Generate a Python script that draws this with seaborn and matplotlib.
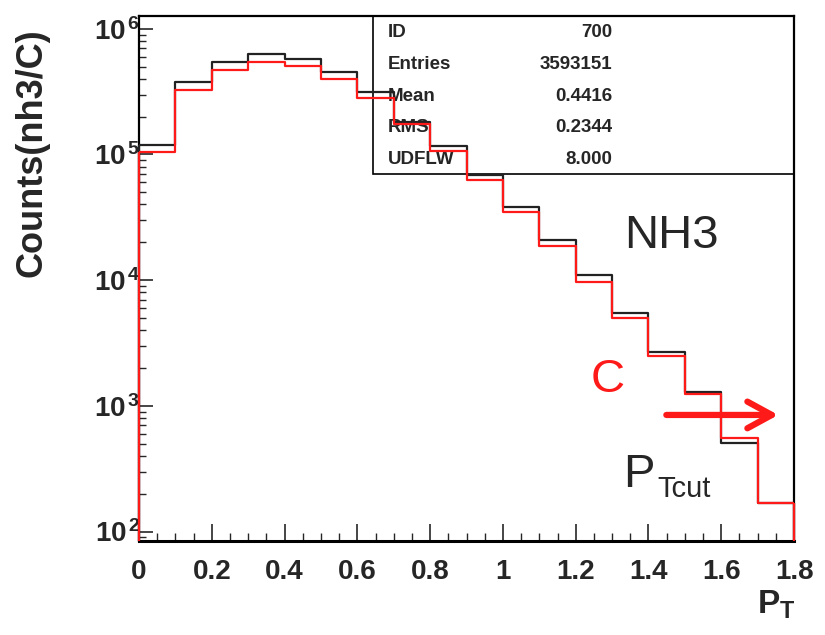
import numpy as np
import seaborn as sns
import matplotlib.pyplot as plt
from matplotlib import ticker

# pT bins (GeV/c) and counts per bin
pt_bins = [0.0, 0.1, 0.2, 0.3, 0.4, 0.5, 0.6, 0.7, 0.8, 0.9,
           1.0, 1.1, 1.2, 1.3, 1.4, 1.5, 1.6, 1.7, 1.8]
nh3_counts = [1.19e5, 3.80e5, 5.47e5, 6.27e5, 5.77e5, 4.57e5, 3.13e5, 1.82e5, 1.17e5,
              6.90e4, 3.84e4, 2.07e4, 1.09e4, 5.46e3, 2.66e3, 1.28e3, 505, 168]
c_counts = [1.05e5, 3.27e5, 4.70e5, 5.42e5, 5.09e5, 3.96e5, 2.81e5, 1.76e5, 1.07e5,
            6.27e4, 3.47e4, 1.88e4, 9.65e3, 4.99e3, 2.50e3, 1.24e3, 553, 168]

stat_names = ["ID", "Entries", "Mean", "RMS", "UDFLW"]
stat_values = ["700", "3593151", "0.4416", "0.2344", "8.000"]

sns.set_theme(style="white")
plt.rcParams["font.family"] = ["Liberation Sans", "DejaVu Sans"]
plt.rcParams["mathtext.fontset"] = "custom"
plt.rcParams["mathtext.rm"] = "Liberation Sans"
plt.rcParams["mathtext.bf"] = "Liberation Sans:bold"
plt.rcParams["mathtext.it"] = "Liberation Sans:italic"

black = "#222222"
red = "#ff1a1a"
y_min, y_max = 84, 1.27e6

centers = (np.array(pt_bins[:-1]) + np.array(pt_bins[1:])) / 2

fig = plt.figure(figsize=(8.25, 6.35), dpi=100)
ax = fig.add_axes([0.1685, 0.148, 0.794, 0.8272])
ax.set_yscale("log")

for counts, col, z in [(nh3_counts, black, 3), (c_counts, red, 4)]:
    sns.histplot(x=centers, weights=counts, bins=pt_bins, element="step", fill=False,
                 color=col, linewidth=1.6, ax=ax, zorder=z)
    # histogram edges down to the axis, as ROOT draws them
    ax.vlines([pt_bins[0], pt_bins[-1]], y_min, [counts[0], counts[-1]],
              colors=col, linewidth=1.6, zorder=z, clip_on=False)

ax.set_xlim(pt_bins[0], pt_bins[-1])
ax.set_ylim(y_min, y_max)

# ticks, ROOT style
ax.xaxis.set_major_locator(ticker.MultipleLocator(0.2))
ax.xaxis.set_minor_locator(ticker.MultipleLocator(0.05))
ax.xaxis.set_major_formatter(ticker.FuncFormatter(lambda v, p: f"{v:g}"))
ax.yaxis.set_major_locator(ticker.LogLocator(base=10))
ax.yaxis.set_minor_locator(ticker.LogLocator(base=10, subs=np.arange(2, 10)))
ax.yaxis.set_minor_formatter(ticker.NullFormatter())
ax.yaxis.set_major_formatter(ticker.FuncFormatter(
    lambda v, p: r"$\mathbf{10}^{\,\mathbf{%d}}$" % round(np.log10(v))))
ax.tick_params(axis="x", which="major", direction="in", length=12, width=1.2,
               pad=13, labelsize=20, bottom=True, top=False)
ax.tick_params(axis="x", which="minor", direction="in", length=6, width=1.0,
               bottom=True, top=False)
ax.tick_params(axis="y", which="major", direction="in", length=10, width=1.2,
               pad=-1, labelsize=20, left=True, right=False)
ax.tick_params(axis="y", which="minor", direction="in", length=5, width=1.0,
               left=True, right=False)
for lab in ax.get_xticklabels():
    lab.set_fontweight("bold")

for side, lw in [("left", 1.6), ("bottom", 2.2), ("top", 1.6), ("right", 1.6)]:
    ax.spines[side].set_visible(True)
    ax.spines[side].set_color("black")
    ax.spines[side].set_linewidth(lw)

ax.set_ylabel("Counts(nh3/C)", fontsize=26, fontweight="bold", fontstyle="normal")
ax.yaxis.set_label_coords(-0.136, 0.739)
ax.set_xlabel(r"$\mathbf{P_T}$", fontsize=24, loc="right")
ax.xaxis.set_label_coords(1.002, -0.091)

# stats box
ax.add_patch(plt.Rectangle((0.357, 0.699), 0.643, 0.301, transform=ax.transAxes,
                           fill=False, edgecolor="black", linewidth=1.2, zorder=2))
row_y = [0.968, 0.907, 0.846, 0.787, 0.726]
for name, val, y in zip(stat_names, stat_values, row_y):
    ax.text(0.380, y, name, transform=ax.transAxes, fontsize=13.5, fontweight="bold",
            ha="left", va="center", zorder=1)
    ax.text(0.722, y, val, transform=ax.transAxes, fontsize=13.5, fontweight="bold",
            ha="right", va="center", zorder=1)

ax.text(0.740, 0.558, "NH3", transform=ax.transAxes, fontsize=34, ha="left", va="baseline")
ax.text(0.690, 0.284, "C", transform=ax.transAxes, fontsize=34, color=red,
        ha="left", va="baseline")
ax.text(0.739, 0.103, "P", transform=ax.transAxes, fontsize=34, ha="left", va="baseline")
ax.text(0.791, 0.084, "Tcut", transform=ax.transAxes, fontsize=21, ha="left", va="baseline")
ax.annotate("", xy=(0.976, 0.240), xytext=(0.805, 0.240),
            xycoords="axes fraction", textcoords="axes fraction",
            arrowprops=dict(arrowstyle="->,head_length=0.55,head_width=0.3",
                            mutation_scale=32, color=red, lw=4.5,
                            shrinkA=0, shrinkB=0), zorder=5)

fig.savefig("out.png", dpi=100)
